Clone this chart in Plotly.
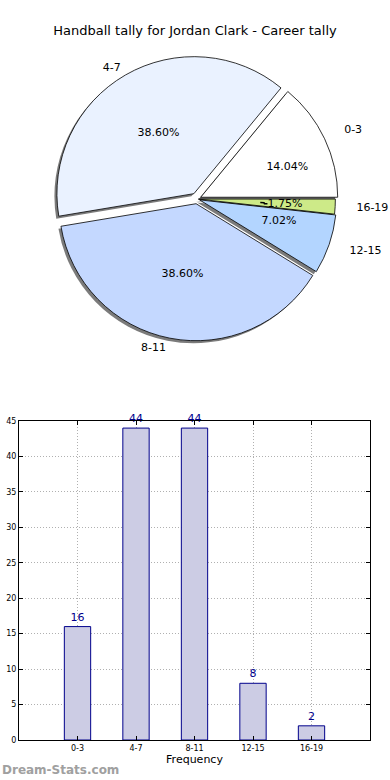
import plotly.graph_objects as go

categories = ["0-3", "4-7", "8-11", "12-15", "16-19"]
values = [16, 44, 44, 8, 2]
pie_colors = ["#ffffff", "#eaf2ff", "#c4d8ff", "#b3d5ff", "#cdea88"]
pulls = [0.03, 0.045, 0.035, 0.02, 0.01]

W, H = 390, 780

def px_x(p):
    return p / W

def px_y(p):
    return 1 - p / H

# first slice starts at 3 o'clock and goes counterclockwise (plotly anchors the first slice's far edge)
rot = 90 - 360.0 * values[0] / sum(values)

cx, cy = 197, 199
r_main = 137

def domain_for(r, pull_list, dx=0, dy=0):
    half = r * (1 + max(pull_list))
    return dict(x=[px_x(cx - half + dx), px_x(cx + half + dx)],
                y=[px_y(cy + half + dy), px_y(cy - half + dy)])

def scaled_pulls(r):
    return [p * r_main / r for p in pulls]

def show_only(idx, n=5):
    return ["outside" if i in idx else "none" for i in range(n)]

fig = go.Figure()

base = dict(labels=categories, values=values, sort=False, direction="counterclockwise",
            rotation=rot, showlegend=False, hoverinfo="skip", automargin=False)
txtfont = dict(family="DejaVu Sans", size=11, color="black")
clear = dict(colors=["rgba(0,0,0,0)"] * 5, line=dict(width=0))

# shadow
fig.add_trace(go.Pie(**base, pull=pulls, domain=domain_for(r_main, pulls, -2.5, 2.5),
                     marker=dict(colors=["rgba(90,90,90,0.8)"] * 5, line=dict(width=0)),
                     textinfo="none"))
# main pie with percentages inside for the big slices
fig.add_trace(go.Pie(**base, pull=pulls, domain=domain_for(r_main, pulls),
                     marker=dict(colors=pie_colors, line=dict(color="black", width=0.8)),
                     texttemplate="%{percent:.2%}",
                     textposition=["none", "inside", "inside", "none", "none"],
                     insidetextorientation="horizontal", textfont=txtfont))

# percentages for the other slices, from inner transparent pies
def text_pie(r, idx, template=None, info=None):
    p = scaled_pulls(r)
    kw = dict(texttemplate=template) if template else dict(textinfo=info)
    fig.add_trace(go.Pie(**base, pull=p, domain=domain_for(r, p), marker=clear,
                         textposition=show_only(idx), textfont=txtfont, **kw))

text_pie(69, [0], template="%{percent:.2%}")
text_pie(62, [3], template="%{percent:.2%}")
text_pie(62, [4], template="%{percent:.2%}")
# category labels, from outer transparent pies
text_pie(140, [1, 2], info="label")
text_pie(155, [0, 3, 4], info="label")

# bar chart
fig.add_trace(go.Bar(x=categories, y=values, width=0.45, xaxis="x", yaxis="y",
                     marker=dict(color="#ccccE4", line=dict(color="#00008b", width=1)),
                     text=[str(v) for v in values], textposition="outside",
                     textfont=dict(family="DejaVu Sans", size=11, color="#00008b"),
                     cliponaxis=False, showlegend=False, hoverinfo="skip"))

grid = dict(showgrid=True, gridcolor="#b0b0b0", griddash="1px,2px", gridwidth=1)
fig.update_layout(
    width=W, height=H,
    margin=dict(l=0, r=0, t=0, b=0, autoexpand=False),
    paper_bgcolor="white", plot_bgcolor="white",
    title=dict(text="Handball tally for Jordan Clark - Career tally", x=0.5, xanchor="center",
               y=px_y(30), yanchor="middle",
               font=dict(family="DejaVu Sans", size=13, color="black")),
    uniformtext=dict(minsize=11, mode="show"),
    xaxis=dict(domain=[px_x(19), px_x(370)], range=[-1, 5], anchor="y",
               type="category", categoryorder="array", categoryarray=categories,
               showline=True, linecolor="black", linewidth=1, mirror="ticks",
               ticks="inside", ticklen=4, tickcolor="black",
               tickfont=dict(family="DejaVu Sans", size=8, color="black"),
               title=dict(text="Frequency", font=dict(family="DejaVu Sans", size=11, color="black"),
                          standoff=2),
               zeroline=False, **grid),
    yaxis=dict(domain=[px_y(740), px_y(421)], range=[0, 45], dtick=5, anchor="x",
               showline=True, linecolor="black", linewidth=1, mirror="ticks",
               ticks="inside", ticklen=4, tickcolor="black",
               tickfont=dict(family="DejaVu Sans", size=8, color="black"),
               zeroline=False, **grid),
    annotations=[dict(text="<b>Dream-Stats.com</b>", x=0, y=px_y(770), xref="paper", yref="paper",
                      xanchor="left", yanchor="middle", showarrow=False,
                      font=dict(family="DejaVu Sans", size=12, color="#a0a0a0"))],
)

fig.write_html("out.html", config={"displayModeBar": False},
               post_script="document.body.style.margin='0';")
